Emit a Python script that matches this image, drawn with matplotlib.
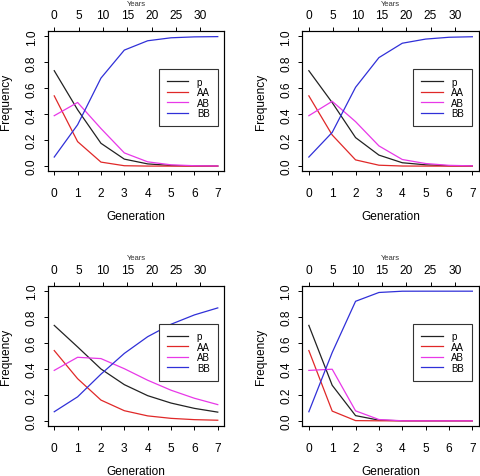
import matplotlib
matplotlib.use("Agg")
from matplotlib import pyplot as plt
import numpy as np

plt.rcParams['font.family'] = ['Liberation Sans', 'DejaVu Sans']

generation = [0, 1, 2, 3, 4, 5, 6, 7]
year_ticks = [0, 5, 10, 15, 20, 25, 30]
years_per_gen = 4.8
labels = ["p", "AA", "AB", "BB"]

# panel 1 (top left)
p1 = [0.736, 0.435, 0.176, 0.054, 0.017, 0.005, 0.0015, 0.0004]
aa1 = [0.542, 0.189, 0.031, 0.003, 0.0003, 0.0, 0.0, 0.0]
ab1 = [0.389, 0.491, 0.290, 0.102, 0.033, 0.010, 0.003, 0.001]
bb1 = [0.070, 0.319, 0.679, 0.895, 0.967, 0.990, 0.997, 0.999]

# panel 2 (top right)
p2 = [0.736, 0.490, 0.220, 0.085, 0.026, 0.010, 0.003, 0.001]
aa2 = [0.542, 0.240, 0.048, 0.007, 0.0007, 0.0001, 0.0, 0.0]
ab2 = [0.389, 0.500, 0.343, 0.156, 0.051, 0.020, 0.006, 0.002]
bb2 = [0.070, 0.260, 0.608, 0.837, 0.948, 0.980, 0.994, 0.998]

# panel 3 (bottom left)
p3 = [0.736, 0.570, 0.400, 0.279, 0.194, 0.137, 0.096, 0.067]
aa3 = [0.542, 0.325, 0.160, 0.078, 0.038, 0.019, 0.009, 0.0045]
ab3 = [0.389, 0.490, 0.480, 0.402, 0.313, 0.236, 0.174, 0.125]
bb3 = [0.070, 0.185, 0.360, 0.520, 0.649, 0.745, 0.817, 0.871]

# panel 4 (bottom right)
p4 = [0.736, 0.274, 0.040, 0.005, 0.0001, 0.0, 0.0, 0.0]
aa4 = [0.542, 0.075, 0.0016, 0.0, 0.0, 0.0, 0.0, 0.0]
ab4 = [0.389, 0.398, 0.077, 0.010, 0.0002, 0.0, 0.0, 0.0]
bb4 = [0.070, 0.527, 0.922, 0.990, 0.9998, 1.0, 1.0, 1.0]

colors = ["#222222", "#e02828", "#e838e8", "#3030d8"]
fs = 8.6


def draw_panel(ax, series):
    for s, c, lab in zip(series, colors, labels):
        ax.plot(generation, s, color=c, lw=0.9, label=lab)
    ax.set_xlim(-0.28, 7.28)
    ax.set_ylim(-0.04, 1.04)
    ax.set_xticks(generation)
    ax.set_yticks([0, 0.2, 0.4, 0.6, 0.8, 1.0])
    ax.set_yticklabels(["0.0", "0.2", "0.4", "0.6", "0.8", "1.0"], rotation=90, va="center")
    ax.tick_params(axis="x", length=3.2, pad=8, labelsize=fs, width=0.7)
    ax.tick_params(axis="y", length=3.2, pad=4, labelsize=fs, width=0.7)
    for sp in ax.spines.values():
        sp.set_linewidth(0.8)
        sp.set_color("#333333")

    top = ax.twiny()
    top.set_xlim(-0.28 * years_per_gen, 7.28 * years_per_gen)
    top.set_xticks(year_ticks)
    top.tick_params(axis="x", length=3.2, pad=4, labelsize=fs, width=0.7)
    top.text(0.5, 1.2, "Years", transform=ax.transAxes, ha="center", va="center", fontsize=5.5,
             color="#333333")

    ax.text(0.5, -0.321, "Generation", transform=ax.transAxes, ha="center", va="center", fontsize=fs)
    ax.text(-0.236, 0.5, "Frequency", transform=ax.transAxes, ha="center", va="center",
            rotation=90, fontsize=fs)

    leg = ax.legend(loc="upper left", bbox_to_anchor=(4.48, 0.75), bbox_transform=ax.transData,
                    borderaxespad=0, fancybox=False, framealpha=1, edgecolor="#333333",
                    fontsize=7, handlelength=2.2, handletextpad=0.9, labelspacing=0.05,
                    borderpad=0.8)
    leg.get_frame().set_linewidth(0.8)


fig = plt.figure(figsize=(4.81, 4.77), dpi=100)
w = 176.6 / 481
h = 140 / 477
ax1 = fig.add_axes([47.7 / 481, (477 - 172.3) / 477, w, h])
ax2 = fig.add_axes([302.3 / 481, (477 - 172.3) / 477, w, h])
ax3 = fig.add_axes([47.7 / 481, (477 - 427) / 477, w, h])
ax4 = fig.add_axes([302.3 / 481, (477 - 427) / 477, w, h])

draw_panel(ax1, [p1, aa1, ab1, bb1])
draw_panel(ax2, [p2, aa2, ab2, bb2])
draw_panel(ax3, [p3, aa3, ab3, bb3])
draw_panel(ax4, [p4, aa4, ab4, bb4])

fig.savefig("out.png", dpi=100)
